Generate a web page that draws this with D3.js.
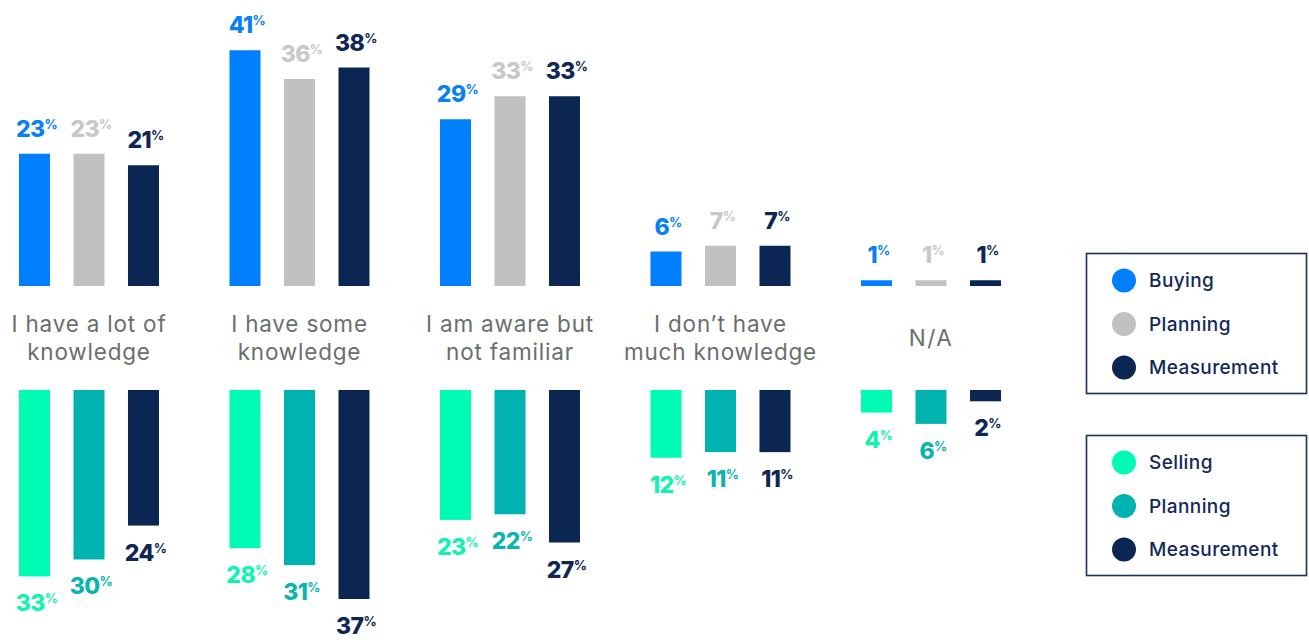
<!DOCTYPE html>
<html><head><meta charset="utf-8">
<script src="https://cdn.jsdelivr.net/npm/d3@7"></script>
<style>
html,body{margin:0;padding:0;background:#fff;}
svg{display:block;}
</style></head>
<body>
<svg id="c" width="1309" height="643"></svg>
<script>
const categories = [
  ["I have a lot of", "knowledge"],
  ["I have some", "knowledge"],
  ["I am aware but", "not familiar"],
  ["I don\u2019t have", "much knowledge"],
  ["N/A"]
];
const topSeries = ["Buying", "Planning", "Measurement"];
const bottomSeries = ["Selling", "Planning", "Measurement"];
const buying = [23, 41, 29, 6, 1];
const planningTop = [23, 36, 33, 7, 1];
const measurementTop = [21, 38, 33, 7, 1];
const selling = [33, 28, 23, 12, 4];
const planningBottom = [30, 31, 22, 11, 6];
const measurementBottom = [24, 37, 27, 11, 2];

const topColors = ["#0080ff", "#c0c1c1", "#0c2653"];
const topLabelColors = ["#0a80f5", "#c7c8c8", "#0f2752"];
const bottomColors = ["#00fcb4", "#00b3b0", "#0c2653"];
const bottomLabelColors = ["#12f2b2", "#0cb4b0", "#0f2752"];

const svg = d3.select("#c");
const catIdx = categories.map((d, i) => i);
const x0 = d3.scalePoint().domain(catIdx).range([19, 861]);
const x1 = d3.scaleBand().domain([0, 1, 2]).range([0, 140]).paddingInner(0.431).paddingOuter(0);
const yTop = d3.scaleLinear().domain([0, 42]).range([286, 44.5]);
const yBot = d3.scaleLinear().domain([0, 37]).range([390, 599]);

const topData = [buying, planningTop, measurementTop];
const botData = [selling, planningBottom, measurementBottom];

const numFont = "Inter, 'Open Sans', sans-serif";

function addLabel(g, x, y, v, color) {
  const t = g.append("text")
    .attr("x", x).attr("y", y)
    .attr("text-anchor", "middle")
    .attr("fill", color)
    .style("font-family", numFont)
    .style("font-weight", 800)
    .style("font-size", "23px")
    .style("letter-spacing", "-0.6px");
  t.append("tspan").text(v);
  t.append("tspan").text("%").attr("dy", -8).style("font-size", "13px").style("font-weight", 700);
}

const gTop = svg.append("g");
topData.forEach((arr, s) => {
  arr.forEach((v, c) => {
    const x = x0(c) + x1(s);
    gTop.append("rect")
      .attr("x", x).attr("y", yTop(v))
      .attr("width", x1.bandwidth())
      .attr("height", yTop(0) - yTop(v))
      .attr("fill", topColors[s]);
    addLabel(gTop, x + x1.bandwidth() / 2 + 2, yTop(v) - 17, v, topLabelColors[s]);
  });
});

const gBot = svg.append("g");
botData.forEach((arr, s) => {
  arr.forEach((v, c) => {
    const x = x0(c) + x1(s);
    gBot.append("rect")
      .attr("x", x).attr("y", yBot(0))
      .attr("width", x1.bandwidth())
      .attr("height", yBot(v) - yBot(0))
      .attr("fill", bottomColors[s]);
    addLabel(gBot, x + x1.bandwidth() / 2 + 2, yBot(v) + 35, v, bottomLabelColors[s]);
  });
});

// category labels
const gCat = svg.append("g");
categories.forEach((lines, c) => {
  const cx = x0(c) + 70;
  const t = gCat.append("text")
    .attr("text-anchor", "middle")
    .attr("fill", "#6b6e6e")
    .style("font-family", "Inter, 'Open Sans', sans-serif")
    .style("font-size", "22.5px")
    .style("letter-spacing", "0.8px")
    .style("font-weight", 400);
  if (lines.length === 1) {
    t.append("tspan").attr("x", cx).attr("y", 346).text(lines[0]).style("letter-spacing", "1.5px");
  } else {
    lines.forEach((l, i) => t.append("tspan").attr("x", cx).attr("y", 332 + i * 28).text(l));
  }
});

// legends
function legend(y, names, colors) {
  const g = svg.append("g");
  g.append("rect").attr("x", 1086.5).attr("y", y).attr("width", 220).attr("height", 140)
    .attr("fill", "none").attr("stroke", "#1a2f5a").attr("stroke-width", 1.6);
  names.forEach((n, i) => {
    const cy = y + 27 + i * 43.5;
    g.append("circle").attr("cx", 1124).attr("cy", cy).attr("r", 12).attr("fill", colors[i]);
    g.append("text").attr("x", 1149).attr("y", cy + 6.5).text(n)
      .attr("fill", "#13285a")
      .style("font-family", "Inter, 'Open Sans', sans-serif")
      .style("letter-spacing", "0.4px")
      .style("font-size", "19px").style("font-weight", 500);
  });
}
legend(253.5, topSeries, topColors);
legend(435.5, bottomSeries, bottomColors);
</script>
</body></html>
